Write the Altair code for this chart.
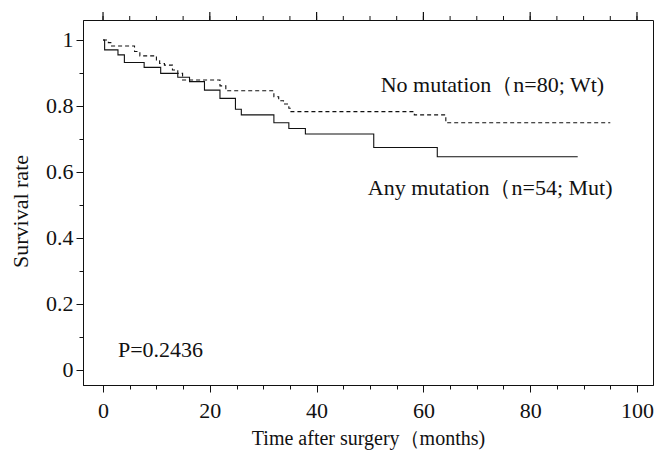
import altair as alt
import pandas as pd

# No mutation (Wt) Kaplan-Meier steps (time in months, survival)
wt_time = [0, 1.0, 1.6, 5.9, 6.9, 10.0, 10.6, 11.5, 13.0, 14.0, 14.9, 21.9, 23.0,
           32.0, 32.9, 33.8, 34.8, 35.2, 58.3, 64.2, 95.0]
wt_surv = [1.0, 0.992, 0.982, 0.965, 0.952, 0.937, 0.929, 0.924, 0.909, 0.899, 0.879,
           0.861, 0.846, 0.828, 0.816, 0.806, 0.793, 0.783, 0.773, 0.749, 0.749]

# Any mutation (Mut)
mut_time = [0, 0.3, 2.8, 4.0, 7.7, 10.8, 14.0, 16.2, 19.0, 21.9, 24.8, 25.9, 32.0,
            34.8, 37.9, 50.7, 62.6, 88.9]
mut_surv = [1.0, 0.97, 0.955, 0.932, 0.917, 0.899, 0.887, 0.874, 0.848, 0.823, 0.790,
            0.773, 0.749, 0.732, 0.715, 0.674, 0.646, 0.646]

x_ticks = list(range(0, 101, 5))
x_major = list(range(0, 101, 20))
y_ticks = [i / 10 for i in range(11)]

label_wt = "No mutation（n=80; Wt)"
label_mut = "Any mutation（n=54; Mut)"
label_p = "P=0.2436"

FONT = "Liberation Serif"
INK = "#111111"
FS = 22

wt = pd.DataFrame({"t": wt_time, "s": wt_surv})
mut = pd.DataFrame({"t": mut_time, "s": mut_surv})

x_scale = alt.Scale(domain=[-3.75, 103.0], nice=False, zero=False)
y_scale = alt.Scale(domain=[-0.0455, 1.0606], nice=False, zero=False)

major_x = "datum.value % 20 == 0"
major_y = "round(datum.value * 10) % 2 == 0"

bottom_axis = alt.Axis(
    orient="bottom", values=x_ticks,
    labelExpr=f"{major_x} ? datum.label : ''",
    tickSize={"condition": {"test": major_x, "value": 7}, "value": 4},
    labelPadding=8, title="Time after surgery（months)", titleFontSize=20,
    titleX=285, titleY=53, titleBaseline="middle", titleAlign="center",
)
y_axis = alt.Axis(
    values=y_ticks,
    labelExpr=f"{major_y} ? format(datum.value, '~g') : ''",
    tickSize={"condition": {"test": major_y, "value": 7}, "value": 4},
    labelPadding=3, title="Survival rate",
    titleX=-63, titleY=191, titleBaseline="middle", titleAlign="center",
)

def X(field):
    return alt.X(field, scale=x_scale, axis=bottom_axis)

def Y(field):
    return alt.Y(field, scale=y_scale, axis=y_axis)

wt_line = alt.Chart(wt).mark_line(
    interpolate="step-after", color=INK, strokeWidth=1.1, strokeDash=[4, 3]
).encode(x=X("t:Q"), y=Y("s:Q"))

mut_line = alt.Chart(mut).mark_line(
    interpolate="step-after", color=INK, strokeWidth=1.1
).encode(x=X("t:Q"), y=Y("s:Q"))

# tick marks along the top frame (positions from the x scale)
top_minor = alt.Chart(pd.DataFrame({"v": x_ticks})).mark_rule(
    color=INK, strokeWidth=1
).encode(x=X("v:Q"), y=alt.value(-4), y2=alt.value(0))
top_major = alt.Chart(pd.DataFrame({"v": x_major})).mark_rule(
    color=INK, strokeWidth=1.2
).encode(x=X("v:Q"), y=alt.value(-8), y2=alt.value(0))

def note(text, tx, sy):
    return alt.Chart(
        pd.DataFrame({"label": [text], "t": [tx], "s": [sy]})
    ).mark_text(
        align="left", baseline="middle", font=FONT, fontSize=FS, color=INK
    ).encode(x=X("t:Q"), y=Y("s:Q"), text="label:N")

chart = alt.layer(
    wt_line, mut_line, top_minor, top_major,
    note(label_wt, 52.0, 0.864),
    note(label_mut, 49.6, 0.552),
    note(label_p, 2.8, 0.061),
).properties(
    width=570, height=365,
    background="white",
    autosize=alt.AutoSizeParams(type="none"),
    padding={"left": 83, "top": 20, "right": 2, "bottom": 65},
).configure_view(
    stroke=INK, strokeWidth=1
).configure_axis(
    grid=False, domainColor=INK, tickColor=INK, labelColor=INK, titleColor=INK,
    labelFont=FONT, labelFontSize=FS, titleFont=FONT, titleFontSize=FS,
    titleFontWeight="normal",
)

chart.save("out.html", embed_options={"renderer": "svg", "actions": False})
